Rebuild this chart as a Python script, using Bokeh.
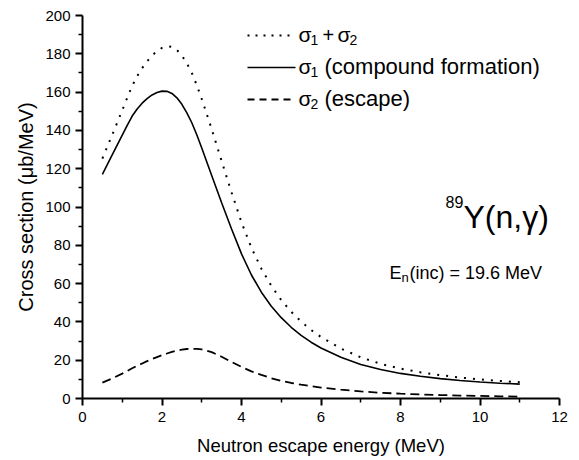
from bokeh.plotting import figure
from bokeh.models import Range1d, Label, FixedTicker
from bokeh.embed import file_html
from bokeh.resources import INLINE

# ---- data ----
energy = [0.5, 0.75, 1.0, 1.125, 1.25, 1.375, 1.5, 1.625, 1.75, 1.875, 2.0,
          2.125, 2.25, 2.375, 2.5, 2.625, 2.75, 2.875, 3.0, 3.25, 3.5, 3.75,
          4.0, 4.25, 4.5, 4.75, 5.0, 5.25, 5.5, 5.75, 6.0, 6.5, 7.0, 7.5, 8.0,
          8.5, 9.0, 9.5, 10.0, 10.5, 11.0]
sigma1 = [117.0, 127.3, 137.5, 142.6, 147.5, 151.2, 154.2, 156.6, 158.5, 159.8,
          160.5, 160.4, 159.3, 157.0, 153.6, 149.2, 144.0, 137.7, 130.8, 116.5,
          102.2, 88.5, 75.5, 64.5, 55.5, 48.2, 42.2, 37.2, 33.0, 29.4, 26.4,
          21.5, 17.8, 15.1, 13.1, 11.6, 10.4, 9.4, 8.6, 8.0, 7.5]
sigma2 = [8.3, 10.5, 13.0, 14.4, 15.8, 17.1, 18.3, 19.5, 20.6, 21.6, 22.6, 23.5,
          24.3, 25.0, 25.5, 25.85, 26.0, 25.9, 25.6, 24.2, 21.8, 19.1, 16.5,
          14.2, 12.3, 10.6, 9.2, 8.1, 7.2, 6.4, 5.7, 4.6, 3.7, 3.0, 2.5, 2.1,
          1.8, 1.55, 1.35, 1.15, 1.0]
sigma_sum = [125.3, 137.8, 150.5, 157.0, 163.3, 168.3, 172.5, 176.1, 179.1,
             181.4, 183.1, 183.9, 183.6, 182.0, 179.1, 175.05, 170.0, 163.6,
             156.4, 140.7, 124.0, 107.6, 92.0, 78.7, 67.8, 58.8, 51.4, 45.3,
             40.2, 35.8, 32.1, 26.1, 21.5, 18.1, 15.6, 13.7, 12.2, 10.95, 9.95,
             9.15, 8.5]
x_ticks = [0, 2, 4, 6, 8, 10, 12]
y_ticks = [0, 20, 40, 60, 80, 100, 120, 140, 160, 180, 200]

FONT = "Liberation Sans"
X_MAX, Y_MAX = 12, 200
FRAME_L, FRAME_T, FRAME_W, FRAME_H = 82, 15, 477, 383

p = figure(frame_width=FRAME_W, frame_height=FRAME_H,
           min_border_left=FRAME_L, min_border_top=FRAME_T,
           min_border_right=12, min_border_bottom=54,
           x_range=Range1d(0, X_MAX), y_range=Range1d(0, Y_MAX),
           output_backend="svg", toolbar_location=None)
p.outline_line_color = None
p.grid.visible = False
p.background_fill_color = "white"

for ax in (p.xaxis[0], p.yaxis[0]):
    ax.axis_line_color = "black"
    ax.axis_line_width = 2
    ax.major_tick_line_color = "black"
    ax.major_tick_line_width = 2
    ax.minor_tick_line_color = "black"
    ax.minor_tick_line_width = 1.5
    ax.major_tick_in = 0
    ax.major_tick_out = 7
    ax.minor_tick_in = 0
    ax.minor_tick_out = 4
    ax.major_label_text_font = FONT
    ax.major_label_text_font_size = "15px"
    ax.major_label_text_color = "black"
    ax.axis_label_text_font = FONT
    ax.axis_label_text_font_style = "normal"
    ax.axis_label_text_color = "black"

p.xaxis.axis_label_text_font_size = "18.5px"
p.yaxis.axis_label_text_font_size = "20px"
p.xaxis.ticker = FixedTicker(ticks=x_ticks,
                             minor_ticks=[t + 1 for t in x_ticks[:-1]])
p.yaxis.ticker = FixedTicker(ticks=y_ticks,
                             minor_ticks=[t + 10 for t in y_ticks[:-1]])
p.xaxis.axis_label = "Neutron escape energy (MeV)"
p.yaxis.axis_label = "Cross section (\u03bcb/MeV)"
p.xaxis.major_label_standoff = 6
p.xaxis.axis_label_standoff = 10
p.yaxis.major_label_standoff = 5
p.yaxis.axis_label_standoff = 5

# curves
p.line(energy, sigma_sum, line_color="black", line_width=2, line_dash="2 7")
p.line(energy, sigma1, line_color="black", line_width=1.6)
p.line(energy, sigma2, line_color="black", line_width=1.8, line_dash="9 5")


# helpers: page pixel -> data coordinates (for annotation placement)
def dx(px):
    return (px - FRAME_L) / FRAME_W * X_MAX


def dy(py):
    return (FRAME_T + FRAME_H - py) / FRAME_H * Y_MAX


def lab(px, py, text, size):
    p.add_layout(Label(x=dx(px), y=dy(py), text=text, text_font=FONT,
                       text_font_size=size, text_color="black",
                       text_baseline="alphabetic", text_align="left"))


# legend keys
key_rows = [(35, "2 6", 2), (67, None, 1.6), (99, "7 5", 1.8)]
for ky, dash, w in key_rows:
    kw = dict(line_color="black", line_width=w)
    if dash:
        kw["line_dash"] = dash
    p.segment(x0=[dx(247)], y0=[dy(ky)], x1=[dx(295)], y1=[dy(ky)], **kw)

SIG, SUB, TXT = "21px", "14px", "22px"
# row 1: sigma1 + sigma2
lab(298, 34, "\u03c3", SIG)
lab(310, 39, "1", SUB)
lab(322, 34, "+", "20px")
lab(337, 34, "\u03c3", SIG)
lab(349, 39, "2", SUB)
# row 2
lab(298, 66, "\u03c3", SIG)
lab(310, 71, "1", SUB)
lab(324, 66, "(compound formation)", TXT)
# row 3
lab(298, 98, "\u03c3", SIG)
lab(310, 103, "2", SUB)
lab(324, 98, "(escape)", TXT)

# reaction title
lab(445, 201, "89", "16px")
lab(463, 216, "Y(n,\u03b3)", "32px")
# incident energy
lab(389, 272, "E", "18px")
lab(401, 277, "n", "13px")
lab(409, 272, "(inc) = 19.6 MeV", "18px")

open("out.html", "w").write(file_html(p, INLINE))
